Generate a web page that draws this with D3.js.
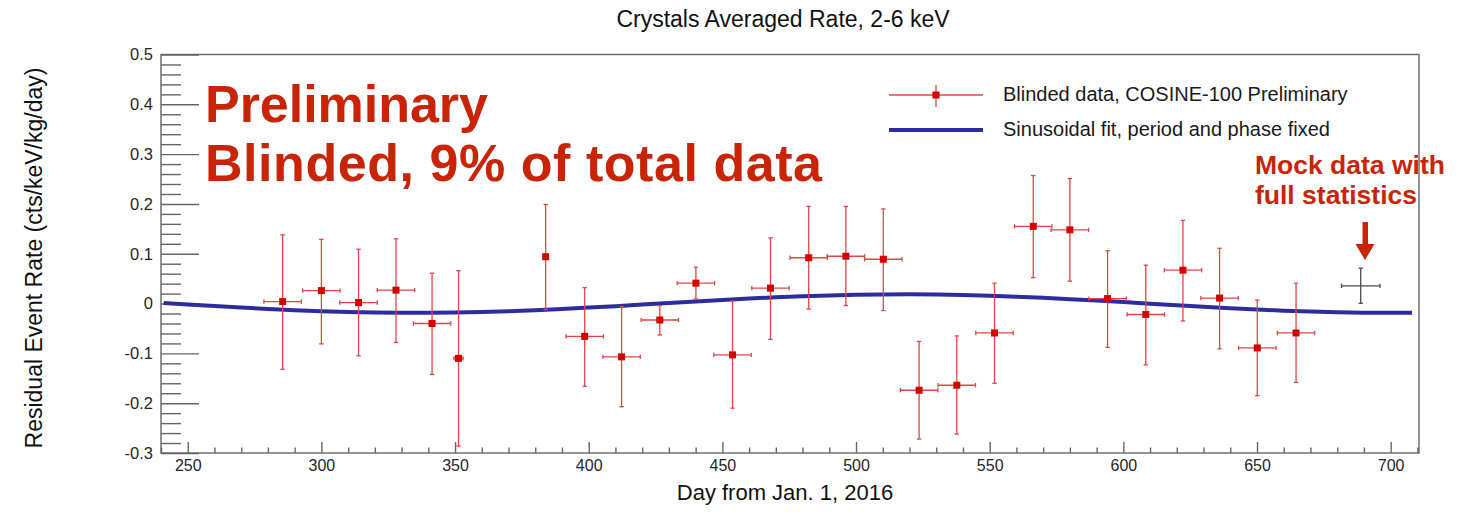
<!DOCTYPE html>
<html>
<head>
<meta charset="utf-8">
<script src="https://cdn.jsdelivr.net/npm/d3@7"></script>
<style>
  html, body { margin: 0; padding: 0; background: #ffffff; }
  svg { display: block; font-family: "Liberation Sans", Arial, Helvetica, sans-serif; }
</style>
</head>
<body>
<svg id="chart" width="1460" height="512"></svg>
<script>
// ---------------- data ----------------
const days   = [285.5, 300.0, 313.9, 327.9, 341.4, 351.3, 383.9, 398.5, 412.3, 426.6, 440.1, 453.8, 468.0, 482.3,
                496.2, 510.2, 523.6, 537.7, 551.8, 566.3, 580.0, 594.1, 608.4, 622.3, 636.0, 650.1, 664.6];
const rates  = [0.004, 0.026, 0.002, 0.027, -0.040, -0.110, 0.094, -0.066, -0.107, -0.033, 0.041, -0.103, 0.031, 0.092,
                0.095, 0.089, -0.174, -0.164, -0.059, 0.155, 0.148, 0.010, -0.022, 0.067, 0.011, -0.089, -0.059];
const rateHigh = [0.138, 0.129, 0.109, 0.130, 0.061, 0.066, 0.199, 0.032, -0.006, -0.004, 0.073, 0.005, 0.132, 0.195,
                0.195, 0.190, -0.076, -0.065, 0.041, 0.257, 0.251, 0.106, 0.077, 0.167, 0.111, 0.007, 0.041];
const rateLow  = [-0.132, -0.081, -0.105, -0.078, -0.142, -0.286, -0.012, -0.166, -0.207, -0.063, 0.009, -0.210, -0.072, -0.011,
                -0.004, -0.014, -0.272, -0.262, -0.160, 0.052, 0.045, -0.088, -0.123, -0.035, -0.091, -0.185, -0.158];
const dayErr = [7, 7, 7, 7, 7, 1.7, 0, 7, 7, 7, 7, 7, 7, 7,
                7, 7, 7, 7, 7, 7, 7, 7, 7, 7, 7, 7, 7];

const mockDay = [688.8], mockRate = [0.0355], mockHigh = [0.071], mockLow = [0.0005], mockDayErr = [7.2];

const fitDays  = [241, 250, 260, 270, 280, 290, 300, 310, 320, 330, 340, 350, 360, 370, 380, 390, 400, 410, 420, 430,
                  440, 450, 460, 470, 480, 490, 500, 510, 520, 530, 540, 550, 560, 570, 580, 590, 600, 610, 620, 630,
                  640, 650, 660, 670, 680, 690, 700, 708];
const fitRates = [0.0012, -0.0020, -0.0051, -0.0081, -0.0108, -0.0132, -0.0152, -0.0168, -0.0179, -0.0184, -0.0184, -0.0179,
                  -0.0168, -0.0153, -0.0133, -0.0109, -0.0081, -0.0052, -0.0020, 0.0011, 0.0043, 0.0073, 0.0101, 0.0126,
                  0.0147, 0.0164, 0.0176, 0.0183, 0.0185, 0.0181, 0.0172, 0.0157, 0.0138, 0.0115, 0.0089, 0.0060,
                  0.0029, -0.0003, -0.0035, -0.0065, -0.0094, -0.0120, -0.0142, -0.0160, -0.0174, -0.0182, -0.0185, -0.0183];

const xTickLabels = [250, 300, 350, 400, 450, 500, 550, 600, 650, 700];
const yTickLabels = [-0.3, -0.2, -0.1, 0, 0.1, 0.2, 0.3, 0.4, 0.5];

const titleText = "Crystals Averaged Rate, 2-6 keV";
const xLabelText = "Day from Jan. 1, 2016";
const yLabelText = "Residual Event Rate (cts/keV/kg/day)";
const legendTexts = ["Blinded data, COSINE-100 Preliminary", "Sinusoidal fit, period and phase fixed"];
const bannerTexts = ["Preliminary", "Blinded, 9% of total data"];
const mockTexts = ["Mock data with", "full statistics"];

// ---------------- layout ----------------
const svg = d3.select("#chart");
svg.append("rect").attr("width", 1460).attr("height", 512).attr("fill", "#ffffff");

const L = 161, R = 1419, T = 54.5, B = 453;
const x = d3.scaleLinear().domain([240, 710.6]).range([L, R]);
const y = d3.scaleLinear().domain([-0.3, 0.5]).range([B, T]);

const axisColor = "#666666";
const textColor = "#262626";
const red = "#d40000";
const redBar = "#e34545";
const blue = "#2c2c9e";
const banner = "#c92406";

// frame
svg.append("rect").attr("x", L).attr("y", T).attr("width", R - L).attr("height", B - T)
  .attr("fill", "none").attr("stroke", axisColor).attr("stroke-width", 1.4);

// x axis (inward ticks)
const xMinor = d3.range(240, 711, 10).filter(v => v % 50 !== 0);
const gxMinor = svg.append("g").attr("transform", `translate(0,${B})`)
  .call(d3.axisBottom(x).tickValues(xMinor).tickSize(-5.5).tickFormat(""));
const gx = svg.append("g").attr("transform", `translate(0,${B})`)
  .call(d3.axisBottom(x).tickValues(xTickLabels).tickSize(-11).tickPadding(7).tickFormat(d3.format("d")));
[gxMinor, gx].forEach(g => {
  g.select(".domain").remove();
  g.selectAll(".tick line").attr("stroke", axisColor).attr("stroke-width", 1.4);
});
gx.selectAll(".tick text").attr("font-size", 16).attr("fill", textColor)
  .attr("font-family", "Liberation Sans, Arial, sans-serif").attr("dy", null).attr("y", 18);

// y axis (inward ticks)
const yMinor = d3.range(-15, 26).map(i => i / 50).filter(v => Math.abs(Math.round(v * 10) - v * 10) > 1e-6);
const gyMinor = svg.append("g").attr("transform", `translate(${L},0)`)
  .call(d3.axisLeft(y).tickValues(yMinor).tickSize(-20).tickFormat(""));
const gy = svg.append("g").attr("transform", `translate(${L},0)`)
  .call(d3.axisLeft(y).tickValues(yTickLabels).tickSize(-38).tickPadding(8)
    .tickFormat(d => d === 0 ? "0" : String(+d.toFixed(1))));
[gyMinor, gy].forEach(g => {
  g.select(".domain").remove();
  g.selectAll(".tick line").attr("stroke", axisColor).attr("stroke-width", 1.4);
});
gy.selectAll(".tick text").attr("font-size", 16.5).attr("fill", textColor)
  .attr("font-family", "Liberation Sans, Arial, sans-serif");

// titles
svg.append("text").attr("x", 783).attr("y", 27).attr("text-anchor", "middle")
  .attr("font-size", 23).attr("fill", "#111").text(titleText);
svg.append("text").attr("x", 785).attr("y", 500).attr("text-anchor", "middle")
  .attr("font-size", 22).attr("fill", "#111").text(xLabelText);
svg.append("text").attr("transform", "translate(42,258) rotate(-90)").attr("text-anchor", "middle")
  .attr("font-size", 23).attr("fill", "#111").text(yLabelText);

// fit curve
const line = d3.line().x(d => x(d[0])).y(d => y(d[1]));
svg.append("path").datum(fitDays.map((d, i) => [d, fitRates[i]]))
  .attr("d", line).attr("fill", "none").attr("stroke", blue).attr("stroke-width", 4);

// data points with error bars
const cap = 2.2;
function drawPoints(dx, dy, dhi, dlo, dex, barColor, markColor, markSize) {
  const g = svg.append("g");
  dx.forEach((d, i) => {
    const cx = x(d), cy = y(dy[i]);
    const gi = g.append("g").attr("stroke", barColor).attr("stroke-width", 1.3);
    gi.append("line").attr("x1", cx).attr("x2", cx).attr("y1", y(dhi[i])).attr("y2", y(dlo[i]));
    gi.append("line").attr("x1", cx - cap).attr("x2", cx + cap).attr("y1", y(dhi[i])).attr("y2", y(dhi[i]));
    gi.append("line").attr("x1", cx - cap).attr("x2", cx + cap).attr("y1", y(dlo[i])).attr("y2", y(dlo[i]));
    if (dex[i] > 0) {
      gi.append("line").attr("x1", x(d - dex[i])).attr("x2", x(d + dex[i])).attr("y1", cy).attr("y2", cy);
      gi.append("line").attr("x1", x(d - dex[i])).attr("x2", x(d - dex[i])).attr("y1", cy - cap).attr("y2", cy + cap);
      gi.append("line").attr("x1", x(d + dex[i])).attr("x2", x(d + dex[i])).attr("y1", cy - cap).attr("y2", cy + cap);
    }
    if (markSize > 0) {
      g.append("rect").attr("x", cx - markSize / 2).attr("y", cy - markSize / 2)
        .attr("width", markSize).attr("height", markSize).attr("fill", markColor);
    }
  });
}
drawPoints(days, rates, rateHigh, rateLow, dayErr, redBar, red, 7);
drawPoints(mockDay, mockRate, mockHigh, mockLow, mockDayErr, "#4a4a4a", "#4a4a4a", 0);

// legend
const lg = svg.append("g");
lg.append("line").attr("x1", 889).attr("x2", 983).attr("y1", 95).attr("y2", 95).attr("stroke", redBar).attr("stroke-width", 1.3);
lg.append("line").attr("x1", 936).attr("x2", 936).attr("y1", 85).attr("y2", 107).attr("stroke", redBar).attr("stroke-width", 1.3);
lg.append("rect").attr("x", 932.5).attr("y", 91.5).attr("width", 7).attr("height", 7).attr("fill", red);
lg.append("line").attr("x1", 889).attr("x2", 983).attr("y1", 130).attr("y2", 130).attr("stroke", blue).attr("stroke-width", 4);
lg.selectAll("text.leg").data(legendTexts).enter().append("text")
  .attr("x", 1003).attr("y", (d, i) => 101 + i * 35).attr("font-size", 20).attr("fill", "#1a1a1a").text(d => d);

// red banner text
svg.selectAll("text.banner").data(bannerTexts).enter().append("text")
  .attr("x", 205).attr("y", (d, i) => 122 + i * 59).attr("font-size", 52).attr("font-weight", "bold")
  .attr("textLength", (d, i) => i === 0 ? 283 : 617).attr("lengthAdjust", "spacing")
  .attr("fill", banner).text(d => d);

svg.selectAll("text.mock").data(mockTexts).enter().append("text")
  .attr("x", 1255).attr("y", (d, i) => 174 + i * 30).attr("font-size", 26.5).attr("font-weight", "bold")
  .attr("fill", banner).text(d => d);

// arrow
svg.append("rect").attr("x", 1362.5).attr("y", 222).attr("width", 5.5).attr("height", 25).attr("fill", banner);
svg.append("path").attr("d", "M1355.5,244 L1374.5,244 L1365,260 Z").attr("fill", banner);
</script>
</body>
</html>
